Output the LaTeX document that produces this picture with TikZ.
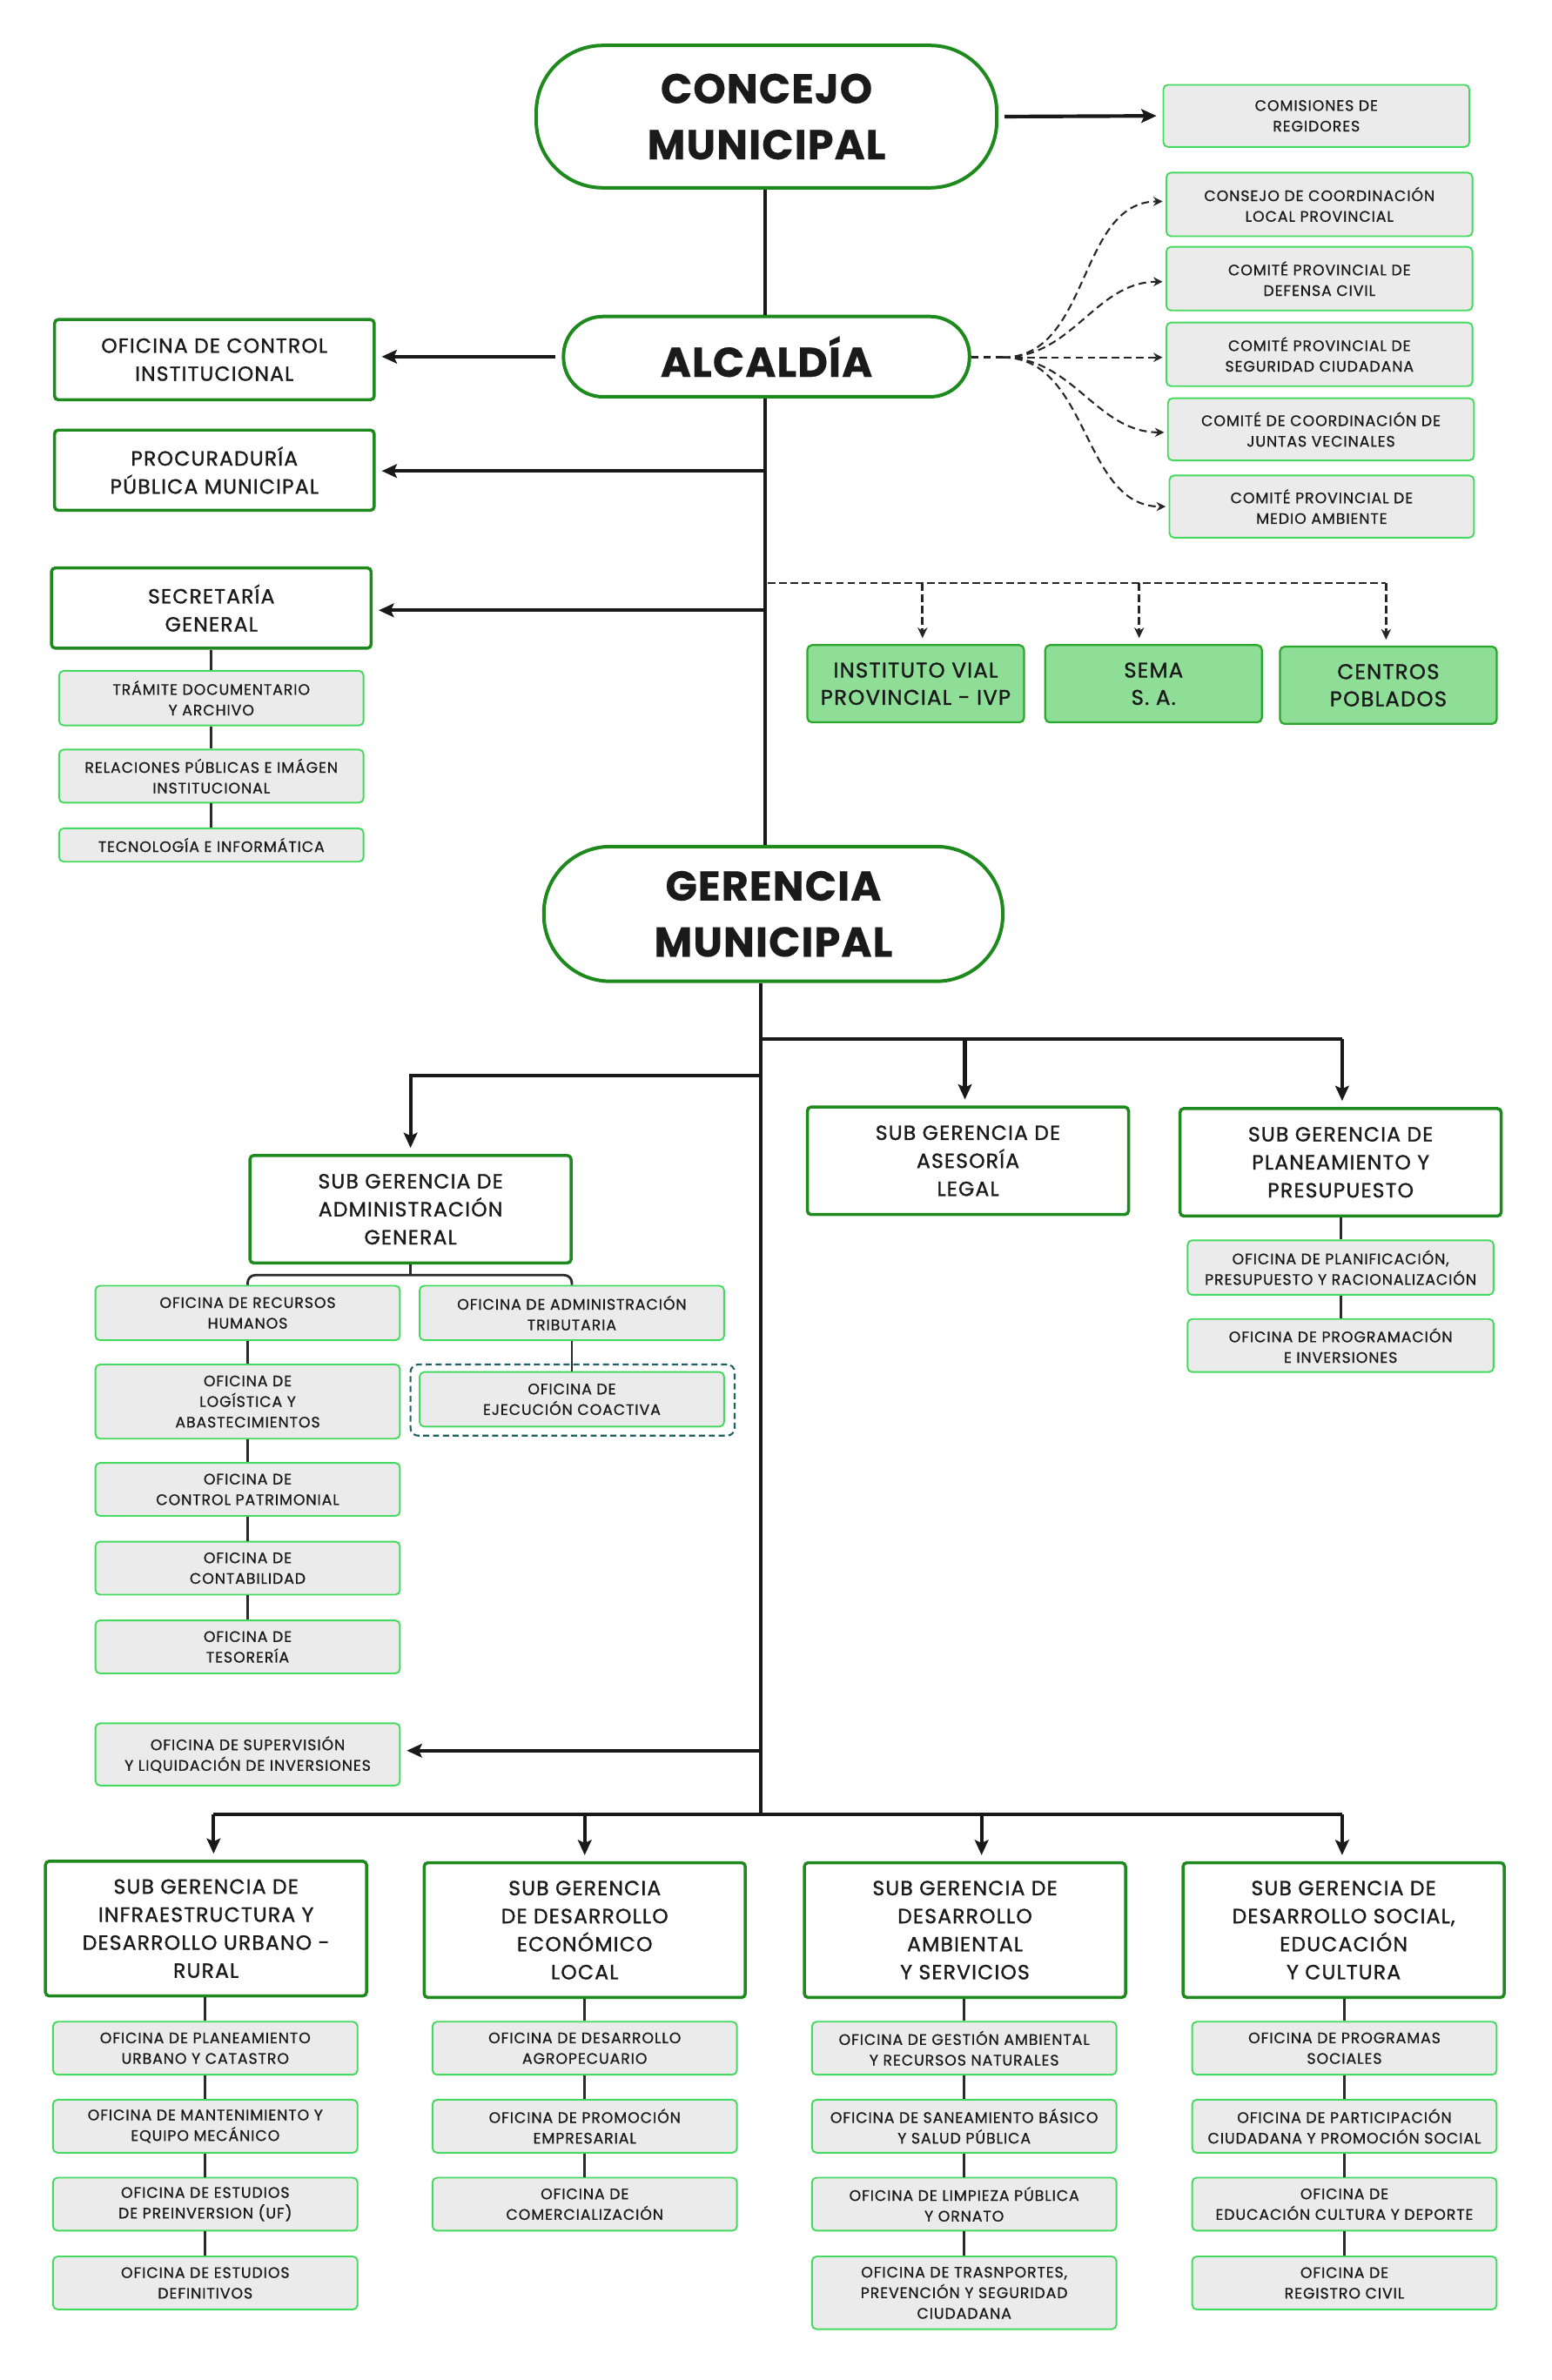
\documentclass[tikz,border=0pt]{standalone}
\usepackage{fontspec}
\setmainfont{Poppins}
\newfontfamily\medfont{Poppins}[FakeBold=1.2, LetterSpace=5]
\newfontfamily\smfont{Poppins}[FakeBold=0.7, LetterSpace=5]
\newfontfamily\bigfont{Poppins}[FakeBold=0.3, LetterSpace=2]
\usetikzlibrary{arrows.meta,calc}
\definecolor{dkgreen}{HTML}{1E8A1E}
\definecolor{ltgreen}{HTML}{45D95F}
\definecolor{boxgray}{HTML}{EBEBEB}
\definecolor{gbfill}{HTML}{8EDE98}
\definecolor{gbdraw}{HTML}{2BA82B}
\definecolor{dteal}{HTML}{1F6060}
\definecolor{lnk}{HTML}{2B2B2B}
\definecolor{txt}{HTML}{1A1A1A}
\tikzset{
 big/.style={draw=dkgreen, line width=2.3pt, rounded corners=44pt, fill=white, align=center, inner sep=0pt, text=txt, font=\bigfont\bfseries\fontsize{27.5}{37}\selectfont},
 mbox/.style={draw=dkgreen, line width=2pt, rounded corners=2.5pt, fill=white, align=center, inner sep=0pt, text=txt, font=\medfont\fontsize{13.5}{18.5}\selectfont},
 sbox/.style={draw=ltgreen, line width=1.1pt, rounded corners=3pt, fill=boxgray, align=center, inner sep=0pt, text=txt, font=\smfont\fontsize{10}{13.6}\selectfont},
 gbox/.style={draw=gbdraw, line width=1.3pt, rounded corners=3pt, fill=gbfill, align=center, inner sep=0pt, text=txt, font=\medfont\fontsize{14}{18}\selectfont},
 wh/.style 2 args={minimum width=#1pt, minimum height=#2pt},
 trunk/.style={draw=black!90, line width=2.4pt},
 arr/.style={-{Stealth[length=10pt,width=9pt,inset=2pt]}, shorten >=4pt},
 chain/.style={draw=lnk, line width=1.6pt},
 dline/.style={draw=black!85, line width=1.6pt, dash pattern=on 5pt off 2.5pt},
 darr/.style={-{Stealth[length=7pt,width=6.5pt]}, shorten >=4pt},
 dcurve/.style={draw=black!85, line width=1.2pt, dash pattern=on 5pt off 3pt, -{Stealth[length=6pt,width=6pt]}},
}
\begin{document}
\begin{tikzpicture}[x=1pt,y=-1pt]
\fill[white] (0,0) rectangle (1024,1571.6);
\useasboundingbox (0,0) rectangle (1024,1571.6);

% ---------- top level ----------
\node[big, wh={304}{94}] (concejo) at (506,77) {CONCEJO\\MUNICIPAL};
\node[sbox, wh={202}{41}] (comisiones) at (869,76.5) {COMISIONES DE\\REGIDORES};
\node[big, wh={268}{53}, rounded corners=26pt] (alcaldia) at (506,235.5) {ALCALDÍA};

\node[sbox, wh={202}{42}] (cc1) at (871,135) {CONSEJO DE COORDINACIÓN\\LOCAL PROVINCIAL};
\node[sbox, wh={202}{42}] (cc2) at (871,184) {COMITÉ PROVINCIAL DE\\DEFENSA CIVIL};
\node[sbox, wh={202}{42}] (cc3) at (871,234) {COMITÉ PROVINCIAL DE\\SEGURIDAD CIUDADANA};
\node[sbox, wh={202}{41}] (cc4) at (872,283.5) {COMITÉ DE COORDINACIÓN DE\\JUNTAS VECINALES};
\node[sbox, wh={201}{41}] (cc5) at (872.5,334.5) {COMITÉ PROVINCIAL DE\\MEDIO AMBIENTE};

\node[mbox, wh={211}{53}] (control) at (141.5,237.5) {OFICINA DE CONTROL\\INSTITUCIONAL};
\node[mbox, wh={211}{53}] (procu) at (141.5,310.5) {PROCURADURÍA\\PÚBLICA MUNICIPAL};
\node[mbox, wh={211}{53}] (secre) at (139.5,401.5) {SECRETARÍA\\GENERAL};
\node[sbox, wh={201}{36}] (tramite) at (139.5,461) {TRÁMITE DOCUMENTARIO\\Y ARCHIVO};
\node[sbox, wh={201}{35}] (relac) at (139.5,512.5) {RELACIONES PÚBLICAS E IMÁGEN\\INSTITUCIONAL};
\node[sbox, wh={201}{22}] (tecno) at (139.5,558) {TECNOLOGÍA E INFORMÁTICA};

\node[gbox, wh={143}{51}] (ivp) at (604.5,451.5) {INSTITUTO VIAL\\PROVINCIAL - IVP};
\node[gbox, wh={143}{51}] (sema) at (761.5,451.5) {SEMA\\S. A.};
\node[gbox, wh={143}{51}] (centros) at (916.5,452.5) {CENTROS\\POBLADOS};

\node[big, wh={303}{89}] (gerencia) at (510.5,603.5) {GERENCIA\\MUNICIPAL};

% ---------- gerencia level ----------
\node[mbox, wh={212}{71}] (adm) at (271,798.5) {SUB GERENCIA DE\\ADMINISTRACIÓN\\GENERAL};
\node[mbox, wh={212}{71}] (ases) at (639,766.5) {SUB GERENCIA DE\\ASESORÍA\\LEGAL};
\node[mbox, wh={212}{71}] (plan) at (885,767.5) {SUB GERENCIA DE\\PLANEAMIENTO Y\\PRESUPUESTO};

\node[draw=dteal, line width=1.2pt, dash pattern=on 4pt off 2.5pt, rounded corners=5pt, wh={214}{47}] (frame) at (378,924.5) {};

\node[sbox, wh={201}{36}] (rrhh) at (163.5,867) {OFICINA DE RECURSOS\\HUMANOS};
\node[sbox, wh={201}{36}] (trib) at (377.5,867) {OFICINA DE ADMINISTRACIÓN\\TRIBUTARIA};
\node[sbox, wh={201}{49}] (logi) at (163.5,925.5) {OFICINA DE\\LOGÍSTICA Y\\ABASTECIMIENTOS};
\node[sbox, wh={201}{36}] (coac) at (377.5,924) {OFICINA DE\\EJECUCIÓN COACTIVA};
\node[sbox, wh={201}{35}] (patr) at (163.5,983.5) {OFICINA DE\\CONTROL PATRIMONIAL};
\node[sbox, wh={201}{35}] (cont) at (163.5,1035.5) {OFICINA DE\\CONTABILIDAD};
\node[sbox, wh={201}{35}] (teso) at (163.5,1087.5) {OFICINA DE\\TESORERÍA};
\node[sbox, wh={201}{41}] (super) at (163.5,1158.5) {OFICINA DE SUPERVISIÓN\\Y LIQUIDACIÓN DE INVERSIONES};

\node[sbox, wh={202}{36}] (planif) at (885,837) {OFICINA DE PLANIFICACIÓN,\\PRESUPUESTO Y RACIONALIZACIÓN};
\node[sbox, wh={202}{35}] (progr) at (885,888.5) {OFICINA DE PROGRAMACIÓN\\E INVERSIONES};

% ---------- bottom level ----------
\node[mbox, wh={212}{89}] (sg1) at (136,1273.5) {SUB GERENCIA DE\\INFRAESTRUCTURA Y\\DESARROLLO URBANO -\\RURAL};
\node[mbox, wh={212}{89}] (sg2) at (386,1274.5) {SUB GERENCIA\\DE DESARROLLO\\ECONÓMICO\\LOCAL};
\node[mbox, wh={212}{89}] (sg3) at (637,1274.5) {SUB GERENCIA DE\\DESARROLLO\\AMBIENTAL\\Y SERVICIOS};
\node[mbox, wh={212}{89}] (sg4) at (887,1274.5) {SUB GERENCIA DE\\DESARROLLO SOCIAL,\\EDUCACIÓN\\Y CULTURA};

\node[sbox, wh={201}{35}] (a1) at (135.5,1352.5) {OFICINA DE PLANEAMIENTO\\URBANO Y CATASTRO};
\node[sbox, wh={201}{35}] (a2) at (135.5,1404) {OFICINA DE MANTENIMIENTO Y\\EQUIPO MECÁNICO};
\node[sbox, wh={201}{35}] (a3) at (135.5,1455.5) {OFICINA DE ESTUDIOS\\DE PREINVERSION (UF)};
\node[sbox, wh={201}{35}] (a4) at (135.5,1507.5) {OFICINA DE ESTUDIOS\\DEFINITIVOS};

\node[sbox, wh={201}{35}] (b1) at (386,1352.5) {OFICINA DE DESARROLLO\\AGROPECUARIO};
\node[sbox, wh={201}{35}] (b2) at (386,1404) {OFICINA DE PROMOCIÓN\\EMPRESARIAL};
\node[sbox, wh={201}{35}] (b3) at (386,1455.5) {OFICINA DE\\COMERCIALIZACIÓN};

\node[sbox, wh={201}{35}] (c1) at (636.5,1352.5) {OFICINA DE GESTIÓN AMBIENTAL\\Y RECURSOS NATURALES};
\node[sbox, wh={201}{35}] (c2) at (636.5,1404) {OFICINA DE SANEAMIENTO BÁSICO\\Y SALUD PÚBLICA};
\node[sbox, wh={201}{35}] (c3) at (636.5,1455.5) {OFICINA DE LIMPIEZA PÚBLICA\\Y ORNATO};
\node[sbox, wh={201}{48}] (c4) at (636.5,1514) {OFICINA DE TRASNPORTES,\\PREVENCIÓN Y SEGURIDAD\\CIUDADANA};

\node[sbox, wh={201}{35}] (d1) at (887.5,1352.5) {OFICINA DE PROGRAMAS\\SOCIALES};
\node[sbox, wh={201}{35}] (d2) at (887.5,1404) {OFICINA DE PARTICIPACIÓN\\CIUDADANA Y PROMOCIÓN SOCIAL};
\node[sbox, wh={201}{35}] (d3) at (887.5,1455.5) {OFICINA DE\\EDUCACIÓN CULTURA Y DEPORTE};
\node[sbox, wh={201}{35}] (d4) at (887.5,1507.5) {OFICINA DE\\REGISTRO CIVIL};

% ---------- coordinates ----------
\coordinate (tA) at (505,0);
\coordinate (tB) at (502,0);
\coordinate (jp) at (505,311);
\coordinate (js) at (505,403);
\coordinate (dz) at (507,385);
\coordinate (dz1) at (609,385);
\coordinate (dz2) at (752,385);
\coordinate (dz3) at (915,385);
\coordinate (fan) at (662,236);
\coordinate (g1) at (502,686);
\coordinate (g1m) at (637,686);
\coordinate (g1r) at (886,686);
\coordinate (g2) at (502,710);
\coordinate (g2l) at (271,710);
\coordinate (brk) at (0,842);
\coordinate (sv) at (502,1156);
\coordinate (bus) at (502,1198);
\coordinate (bu1) at (141,1198);
\coordinate (bu2) at (386,1198);
\coordinate (bu3) at (648,1198);
\coordinate (bu4) at (886,1198);

% ---------- connectors ----------
\draw[trunk] (concejo.south -| tA) -- (alcaldia.north -| tA);
\draw[trunk] (alcaldia.south -| tA) -- (gerencia.north -| tA);
\draw[trunk,arr,shorten <=4pt] (concejo.east) -- (comisiones.west);
\draw[trunk,arr,shorten <=4pt] (alcaldia.west) -- (alcaldia.west -| control.east);
\draw[trunk,arr] (jp) -- (jp -| procu.east);
\draw[trunk,arr] (js) -- (js -| secre.east);

\draw[dcurve, -, line width=2pt] (alcaldia.east |- fan) -- (fan);
\draw[dcurve, shorten >=2pt] (fan) to[out=0,in=180] ([yshift=2pt]cc1.west);
\draw[dcurve, shorten >=2pt] (fan) to[out=0,in=180] ([yshift=-2pt]cc2.west);
\draw[dcurve, shorten >=2pt] (fan) -- (fan -| cc3.west);
\draw[dcurve, shorten >=2pt] (fan) to[out=0,in=180] ([yshift=-2pt]cc4.west);
\draw[dcurve, shorten >=2pt] (fan) to[out=0,in=180] (cc5.west);

\draw[dline] (dz) -- (dz3);
\draw[dline,darr] (dz1) -- (dz1 |- ivp.north);
\draw[dline,darr] (dz2) -- (dz2 |- sema.north);
\draw[dline,darr] (dz3) -- (dz3 |- centros.north);

\draw[chain] (secre.south -| tramite.north) -- (tramite.north);
\draw[chain] (tramite.south) -- (relac.north);
\draw[chain] (relac.south) -- (tecno.north);

\draw[trunk] (gerencia.south -| tB) -- (bus);
\draw[trunk] (g1) -- (g1r);
\draw[trunk,arr] (g1r) -- (g1r |- plan.north);
\draw[trunk,arr] (g1m) -- (g1m |- ases.north);
\draw[trunk,arr] (g2) -- (g2l) -- (adm.north);

\draw[chain] (adm.south) -- (adm.south |- brk);
\draw[chain, rounded corners=5pt] (rrhh.north) -- (rrhh.north |- brk) -- (trib.north |- brk) -- (trib.north);
\draw[chain] (rrhh.south) -- (logi.north);
\draw[chain] (logi.south) -- (patr.north);
\draw[chain] (patr.south) -- (cont.north);
\draw[chain] (cont.south) -- (teso.north);
\draw[chain] (trib.south) -- (coac.north);

\draw[chain] (plan.south) -- (planif.north);
\draw[chain] (planif.south) -- (progr.north);

\draw[trunk,arr] (sv) -- (sv -| super.east);

\draw[trunk] (bu1) -- (bu4);
\draw[trunk,arr] (bu1) -- (bu1 |- sg1.north);
\draw[trunk,arr] (bu2) -- (bu2 |- sg2.north);
\draw[trunk,arr] (bu3) -- (bu3 |- sg3.north);
\draw[trunk,arr] (bu4) -- (bu4 |- sg4.north);

\draw[chain] (sg1.south -| a1.north) -- (a1.north);
\draw[chain] (a1.south) -- (a2.north);
\draw[chain] (a2.south) -- (a3.north);
\draw[chain] (a3.south) -- (a4.north);
\draw[chain] (sg2.south) -- (b1.north);
\draw[chain] (b1.south) -- (b2.north);
\draw[chain] (b2.south) -- (b3.north);
\draw[chain] (sg3.south -| c1.north) -- (c1.north);
\draw[chain] (c1.south) -- (c2.north);
\draw[chain] (c2.south) -- (c3.north);
\draw[chain] (c3.south) -- (c4.north);
\draw[chain] (sg4.south -| d1.north) -- (d1.north);
\draw[chain] (d1.south) -- (d2.north);
\draw[chain] (d2.south) -- (d3.north);
\draw[chain] (d3.south) -- (d4.north);
\end{tikzpicture}
\end{document}
